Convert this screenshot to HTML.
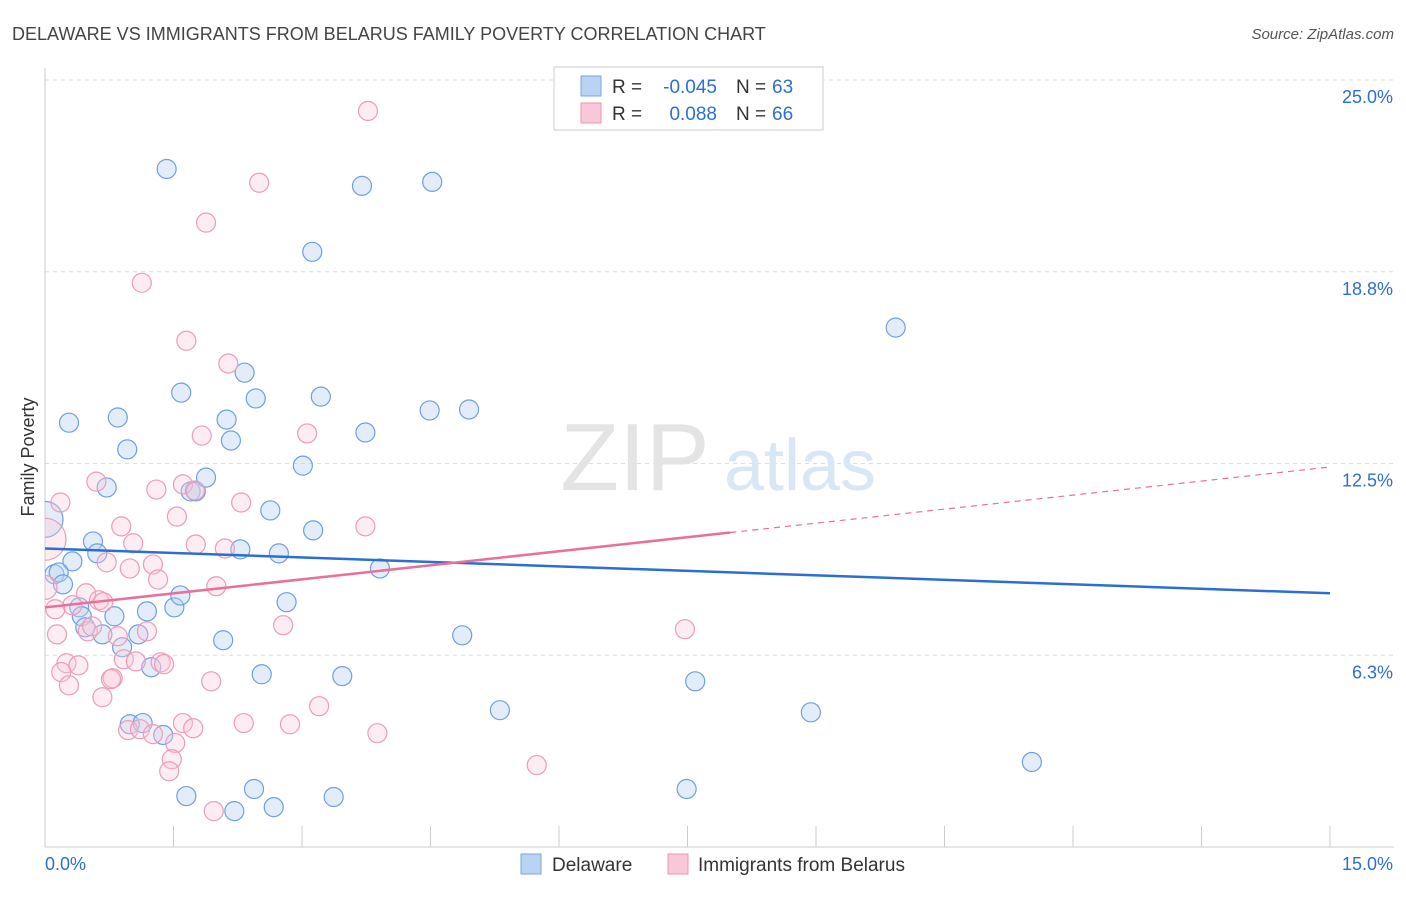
<!DOCTYPE html>
<html><head><meta charset="utf-8"><style>
body{margin:0;background:#fff;font-family:"Liberation Sans",sans-serif;}
svg text{font-family:"Liberation Sans",sans-serif;}
</style></head><body>
<svg id="chart" width="1406" height="892" viewBox="0 0 1406 892" xmlns="http://www.w3.org/2000/svg">
<defs><clipPath id="plotclip"><rect x="45" y="60" width="1361" height="787"/></clipPath></defs>
<text x="12" y="40" font-size="18" fill="#444">DELAWARE VS IMMIGRANTS FROM BELARUS FAMILY POVERTY CORRELATION CHART</text>
<text x="1394" y="39" font-size="15" fill="#555" text-anchor="end" font-style="italic">Source: ZipAtlas.com</text>
<g id="grid"></g>
<g id="watermark">
<text x="635" y="490" font-size="96" fill="#e4e4e4" text-anchor="middle" font-family="Liberation Serif">ZIP</text>
<text x="800" y="490" font-size="72" fill="#d8e6f5" text-anchor="middle">atlas</text>
</g>
<text transform="translate(34,457) rotate(-90)" font-size="18" fill="#333" text-anchor="middle">Family Poverty</text>
<g id="marks" clip-path="url(#plotclip)"></g>
<g>
<rect x="554" y="67" width="269" height="63" fill="#fff" stroke="#ccc"/>
<rect x="581" y="76" width="20" height="20" fill="#b9d3f3" stroke="#7aa6e0"/>
<rect x="581" y="103" width="20" height="20" fill="#f8c8d8" stroke="#e996b4"/>
<text x="612" y="93" font-size="19" fill="#333">R =</text>
<text x="717" y="93" font-size="19" fill="#2a6fd6" text-anchor="end">-0.045</text>
<text x="736" y="93" font-size="19" fill="#333">N =</text>
<text x="772" y="93" font-size="19" fill="#2a6fd6">63</text>
<text x="612" y="120" font-size="19" fill="#333">R =</text>
<text x="717" y="120" font-size="19" fill="#2a6fd6" text-anchor="end">0.088</text>
<text x="736" y="120" font-size="19" fill="#333">N =</text>
<text x="772" y="120" font-size="19" fill="#2a6fd6">66</text>
</g>
<g>
<rect x="521" y="854" width="20" height="20" fill="#b9d3f3" stroke="#7aa6e0"/>
<text x="552" y="871" font-size="19" fill="#333">Delaware</text>
<rect x="668" y="854" width="20" height="20" fill="#f8c8d8" stroke="#e996b4"/>
<text x="698" y="871" font-size="19" fill="#333">Immigrants from Belarus</text>
</g>
</svg>
<script>
const yTicks=[25,18.75,12.5,6.25];
const yTickLabels=["25.0%","18.8%","12.5%","6.3%"];
const xTickCount=10;
const xMin=0,xMax=15,yMin=0,yMax=25;
const blueX=[1.42,3.70,4.52,3.12,9.93,1.59,2.33,2.46,3.22,4.49,4.95,0.28,0.85,2.12,3.74,0.96,2.17,3.01,0.72,1.70,1.76,1.88,2.63,3.13,0.56,0.61,2.28,2.73,0.32,0.11,0.16,0.21,3.91,0.40,0.43,0.81,1.19,1.51,1.58,2.82,0.47,0.67,1.09,0.90,2.08,4.87,1.24,2.53,3.47,7.59,5.31,8.94,0.99,1.14,1.38,1.65,2.44,2.67,2.21,3.37,7.49,11.52,0];
const blueY=[22.10,21.55,21.68,19.40,16.93,14.81,15.46,14.62,14.68,14.23,14.26,13.83,14.00,13.93,13.51,12.96,13.25,12.43,11.72,11.59,11.59,12.04,10.97,10.32,9.96,9.57,9.70,9.57,9.31,8.89,8.95,8.56,9.08,7.81,7.52,7.52,7.68,7.81,8.20,7.98,7.16,6.93,6.93,6.51,6.74,6.90,5.86,5.63,5.57,5.40,4.46,4.39,4.00,4.04,3.65,1.66,1.89,1.30,1.17,1.63,1.89,2.77,10.68];
const pinkX=[3.77,2.50,1.88,1.13,1.65,2.14,1.83,3.06,0.18,0.60,1.30,1.61,1.75,1.54,2.29,3.74,0.89,1.03,1.76,2.10,0.72,1.26,0.99,1.32,0.48,2.00,0.63,0.68,0.32,0.12,0.14,0.50,0.55,0.85,1.19,2.78,7.47,0.92,1.06,1.35,1.39,0.25,0.39,0.19,0.79,0.77,1.94,0.28,0.67,3.20,1.61,2.32,2.86,0.97,1.11,1.26,1.73,3.88,1.52,1.48,1.45,5.74,1.97,0,0];
const pinkY=[23.99,21.65,20.35,18.39,16.50,15.76,13.41,13.48,11.23,11.91,11.65,11.82,11.62,10.77,11.23,10.45,10.45,9.90,9.86,9.73,9.28,9.21,9.08,8.72,8.27,8.50,8.04,7.98,7.88,7.75,6.93,7.03,7.19,6.87,7.03,7.23,7.10,6.12,6.05,6.02,5.96,5.99,5.92,5.70,5.50,5.47,5.40,5.27,4.88,4.59,4.04,4.04,4.00,3.81,3.84,3.68,3.87,3.71,3.39,2.86,2.47,2.67,1.17,10.03,8.46];
const blueBig={62:18}, pinkBig={63:21,64:12};
const blueTrend=[9.73,-0.0973];  // intercept, slope
const pinkTrend=[7.81,0.305];
const pinkSolidEnd=8.0;
const L=45,R=1330,T=80,B=847;
const sx=v=>L+(v-xMin)/(xMax-xMin)*(R-L);
const sy=v=>B-(v-yMin)/(yMax-yMin)*(B-T);
const NS="http://www.w3.org/2000/svg";
function mk(tag,attrs,parent){const e=document.createElementNS(NS,tag);for(const k in attrs)e.setAttribute(k,attrs[k]);parent.appendChild(e);return e;}
const grid=document.getElementById('grid'),marks=document.getElementById('marks'),svg=document.getElementById('chart');
yTicks.forEach((t,i)=>{
 const g=mk('line',{x1:L,x2:1394,y1:sy(t),y2:sy(t),stroke:'#ddd','stroke-dasharray':'4,4'},grid);
 
 
 const tx=mk('text',{x:1393,y:sy(t)+23,'font-size':18,fill:'#2a6fd6','text-anchor':'end'},svg);
 tx.textContent=yTickLabels[i];
 
 
});
const ax=mk('line',{x1:L,x2:L,y1:68,y2:B,stroke:'#ccc'},grid);


const bx=mk('line',{x1:L,x2:1394,y1:B,y2:B,stroke:'#ccc'},grid);


for(let i=1;i<=xTickCount;i++){
 const v=xMin+(xMax-xMin)*i/xTickCount;
 const t=mk('line',{x1:sx(v),x2:sx(v),y1:826,y2:B,stroke:'#ccc'},grid);
 
 
}
const xl0=mk('text',{x:45,y:870,'font-size':18,fill:'#2a6fd6'},svg);xl0.textContent="0.0%";


const xl1=mk('text',{x:1393,y:870,'font-size':18,fill:'#2a6fd6','text-anchor':'end'},svg);xl1.textContent="15.0%";


function dots(X,Y,big,fill,stroke,op,name){
 X.forEach((x,i)=>{
  const r=big[i]||9.5;
  const c=mk('circle',{cx:sx(x),cy:sy(Y[i]),r:r,fill:fill,'fill-opacity':op,stroke:stroke,'stroke-width':1.2},marks);
  
  
 });
}
dots(blueX,blueY,blueBig,'#b9d3f3','#6f9fe0',0.4,'delaware-point');
dots(pinkX,pinkY,pinkBig,'#f8c8d8','#eb9cb9',0.35,'belarus-point');
const bl=mk('line',{x1:sx(0),y1:sy(blueTrend[0]),x2:sx(15),y2:sy(blueTrend[0]+blueTrend[1]*15),stroke:'#2a6fd6','stroke-width':2.5},marks);


const pl=mk('line',{x1:sx(0),y1:sy(pinkTrend[0]),x2:sx(pinkSolidEnd),y2:sy(pinkTrend[0]+pinkTrend[1]*pinkSolidEnd),stroke:'#e8709a','stroke-width':2.5},marks);


const pd=mk('line',{x1:sx(pinkSolidEnd),y1:sy(pinkTrend[0]+pinkTrend[1]*pinkSolidEnd),x2:sx(15),y2:sy(pinkTrend[0]+pinkTrend[1]*15),stroke:'#e8709a','stroke-width':1.2,'stroke-dasharray':'6,5'},marks);


</script>
</body></html>
